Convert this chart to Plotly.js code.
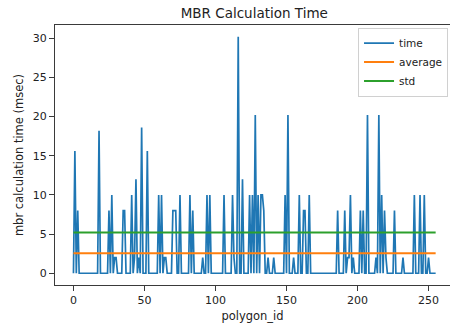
<!DOCTYPE html>
<html>
<head>
<meta charset="utf-8">
<script src="https://cdn.plot.ly/plotly-3.0.1.min.js"></script>
<style>html,body{margin:0;padding:0;background:#fff;}#chart{width:450px;height:329px;}</style>
</head>
<body>
<div id="chart"></div>
<script>
// MBR calculation time per polygon (msec)
var timeMsec = [
  0, 15.6, 0, 8, 0, 0, 0, 0, 0, 0, 0, 0, 0, 0, 0, 0,
  0, 0, 18.2, 0, 0, 0, 0, 0, 0, 8, 0, 10, 0, 2, 2, 0,
  0, 0, 0, 8, 8, 0, 0, 0, 0, 10, 0, 2, 12, 0, 2, 0,
  18.6, 0, 0, 0, 15.6, 0, 0, 0, 0, 0, 0, 0, 10, 0, 10, 0,
  2, 2, 0, 0, 0, 0, 8, 8, 8, 0, 0, 10, 0, 0, 0, 0,
  0, 0, 10, 0, 8, 0, 0, 0, 0, 0, 0, 2, 0, 0, 10, 0,
  10, 0, 0, 0, 0, 0, 0, 0, 0, 0, 10, 0, 0, 0, 0, 0,
  10, 2, 0, 0, 30.2, 0, 0, 12, 0, 0, 0, 0, 10, 0, 10, 0,
  20.2, 0, 10, 0, 10, 10, 8, 0, 0, 2, 0, 0, 0, 2, 0, 0,
  0, 0, 0, 0, 0, 10, 0, 20.2, 0, 0, 0, 2, 0, 0, 0, 10,
  0, 0, 8, 8, 0, 0, 10, 0, 0, 0, 0, 0, 0, 0, 0, 0,
  0, 0, 0, 0, 0, 0, 0, 0, 0, 0, 8, 0, 0, 0, 0, 8,
  0, 2, 2, 10, 0, 2, 0, 0, 0, 0, 8, 0, 8, 0, 0, 20.2,
  0, 0, 0, 0, 0, 2, 0, 20.2, 0, 10, 0, 8, 2, 0, 0, 0,
  0, 0, 8, 0, 0, 0, 0, 0, 2, 0, 0, 0, 0, 0, 0, 0,
  10, 0, 0, 0, 10, 0, 0, 10, 0, 0, 2, 0, 0, 0, 0, 0
];
var averageValue = 2.55;
var stdValue = 5.2;
var seriesNames = ["time", "average", "std"];
var xTickVals = [0, 50, 100, 150, 200, 250];
var yTickVals = [0, 5, 10, 15, 20, 25, 30];

var polygonId = timeMsec.map(function (_, i) { return i; });
var lastId = polygonId[polygonId.length - 1];

var FONT = "DejaVu Sans, Liberation Sans, sans-serif";
var TXT = "#222222";
var AX = "#3a3a3a";

var traces = [
  {x: polygonId, y: timeMsec, type: "scatter", mode: "lines", name: seriesNames[0],
   line: {color: "#1f77b4", width: 1.7}},
  {x: [0, lastId], y: [averageValue, averageValue], type: "scatter", mode: "lines", name: seriesNames[1],
   line: {color: "#ff7f0e", width: 2}},
  {x: [0, lastId], y: [stdValue, stdValue], type: "scatter", mode: "lines", name: seriesNames[2],
   line: {color: "#2ca02c", width: 2}}
];

var axisCommon = {
  showgrid: false, zeroline: false, showline: true, linecolor: AX, linewidth: 1,
  ticks: "outside", ticklen: 5, tickwidth: 1, tickcolor: AX,
  tickfont: {family: FONT, size: 11, color: TXT}
};

var layout = {
  width: 450, height: 329,
  margin: {l: 55, r: 0, t: 25, b: 44},
  paper_bgcolor: "#ffffff", plot_bgcolor: "#ffffff",
  font: {family: FONT, color: TXT},
  title: {text: "MBR Calculation Time", font: {family: FONT, size: 13.5, color: TXT},
          xref: "container", x: 0.565, xanchor: "center", yref: "container", y: 0.96, yanchor: "middle"},
  xaxis: Object.assign({}, axisCommon, {
    range: [-13, 265.1], tickmode: "array", tickvals: xTickVals, mirror: true,
    title: {text: "polygon_id", font: {family: FONT, size: 11.5, color: TXT}, standoff: 5}
  }),
  yaxis: Object.assign({}, axisCommon, {
    range: [-1.5, 31.7], tickmode: "array", tickvals: yTickVals, mirror: false,
    title: {text: "mbr calculation time (msec)", font: {family: FONT, size: 11.5, color: TXT}, standoff: 6}
  }),
  showlegend: true,
  legend: {x: 0.995, xanchor: "right", y: 0.99, yanchor: "top",
           bordercolor: "#d0d0d0", borderwidth: 1, bgcolor: "rgba(255,255,255,0.8)",
           font: {family: FONT, size: 10.5, color: TXT}, itemwidth: 30, tracegroupgap: 0}
};

Plotly.newPlot("chart", traces, layout, {displayModeBar: false, staticPlot: true});
</script>
</body>
</html>
